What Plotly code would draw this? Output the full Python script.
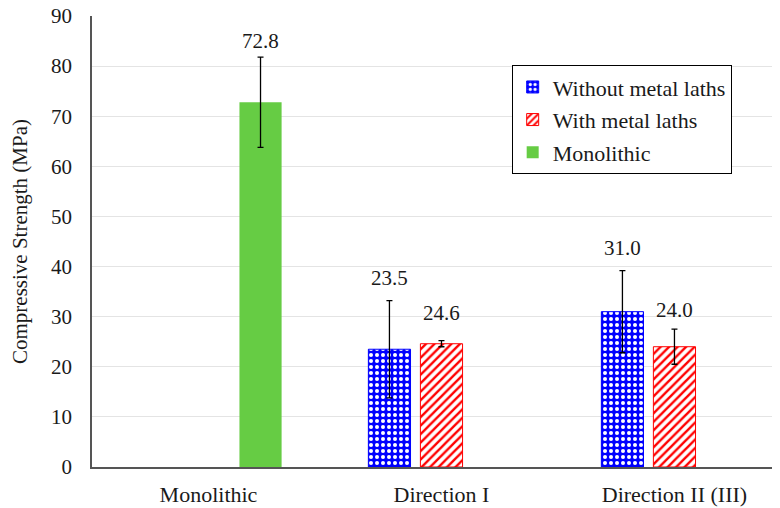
import plotly.graph_objects as go

categories = ["Monolithic", "Direction I", "Direction II (III)"]
without_vals = [None, 23.5, 31.0]
without_err = [0, 9.7, 8.2]
with_vals = [None, 24.6, 24.0]
with_err = [0, 0.6, 3.5]
mono_vals = [72.8, None, None]
mono_err = [9.0, 0, 0]
y_ticks = [0, 10, 20, 30, 40, 50, 60, 70, 80, 90]

FONT = "'Liberation Serif', 'Times New Roman', Times, serif"
TXT = "#1a1a1a"

fig = go.Figure()
fig.add_trace(go.Bar(
    name="Without metal laths", x=categories, y=without_vals, legendgroup="a",
    marker=dict(color="#0000ff", line=dict(color="#0000ff", width=1),
                pattern=dict(shape=".", bgcolor="#0000ff", fgcolor="white", size=6, solidity=0.35, fillmode="replace")),
    error_y=dict(type="data", array=without_err, color="black", thickness=1.3, width=3),
))
fig.add_trace(go.Bar(
    name="With metal laths", x=categories, y=with_vals, legendgroup="b",
    marker=dict(color="white", line=dict(color="#ff0000", width=1),
                pattern=dict(shape="/", bgcolor="white", fgcolor="#ff0000", size=6, solidity=0.4, fillmode="replace")),
    error_y=dict(type="data", array=with_err, color="black", thickness=1.3, width=3),
))
fig.add_trace(go.Bar(
    name="Monolithic", x=categories, y=mono_vals, legendgroup="c",
    marker=dict(color="#66cc44", line=dict(width=0)),
    error_y=dict(type="data", array=mono_err, color="black", thickness=1.3, width=3),
))

# value labels above error bars
slot = {0: -52, 1: 0, 2: 52}
label_shift = [16, 23, 28, 23, 19]
labels = []
for ti, (vals, errs) in enumerate([(without_vals, without_err), (with_vals, with_err), (mono_vals, mono_err)]):
    for ci, (v, e) in enumerate(zip(vals, errs)):
        if v is not None:
            labels.append((ci, ti, v, e))
labels.sort(key=lambda t: (t[0], t[1]))
for k, (ci, ti, v, e) in enumerate(labels):
    fig.add_annotation(x=categories[ci], y=v + e, text=f"{v:.1f}", showarrow=False,
                       xshift=slot[ti], yshift=label_shift[k], yanchor="middle",
                       font=dict(family=FONT, size=21, color=TXT))

# the page body has an 8px margin, so the figure is sized to end at the window edge
fig.update_layout(
    width=772, height=500,
    margin=dict(l=84, r=0, t=8, b=41),
    paper_bgcolor="white", plot_bgcolor="white",
    barmode="group", bargap=0.33, bargroupgap=0.19,
    font=dict(family=FONT, size=21, color=TXT),
    showlegend=True,
    legend=dict(x=0.61, y=0.891, xanchor="left", yanchor="top",
                bordercolor="black", borderwidth=1, bgcolor="white",
                font=dict(family=FONT, size=22, color=TXT),
                itemwidth=30, tracegroupgap=1),
    xaxis=dict(range=[-0.5, 2.453], showline=True, linecolor="#555", linewidth=1.5,
               ticks="", tickfont=dict(family=FONT, size=22, color=TXT), showgrid=False,
               automargin=False, ticklabelstandoff=7, ticklabeloverflow="allow"),
    yaxis=dict(range=[0, 90], tickvals=y_ticks, showline=True, linecolor="#555", linewidth=1.5,
               gridcolor="#e4e4e4", gridwidth=1, ticks="", zeroline=False,
               tickfont=dict(family=FONT, size=21, color=TXT), automargin=False,
               ticklabelstandoff=14, ticklabeloverflow="allow",
               title=dict(text="Compressive Strength (MPa)", font=dict(family=FONT, size=21, color=TXT), standoff=22)),
)

fig.write_html("out.html")
